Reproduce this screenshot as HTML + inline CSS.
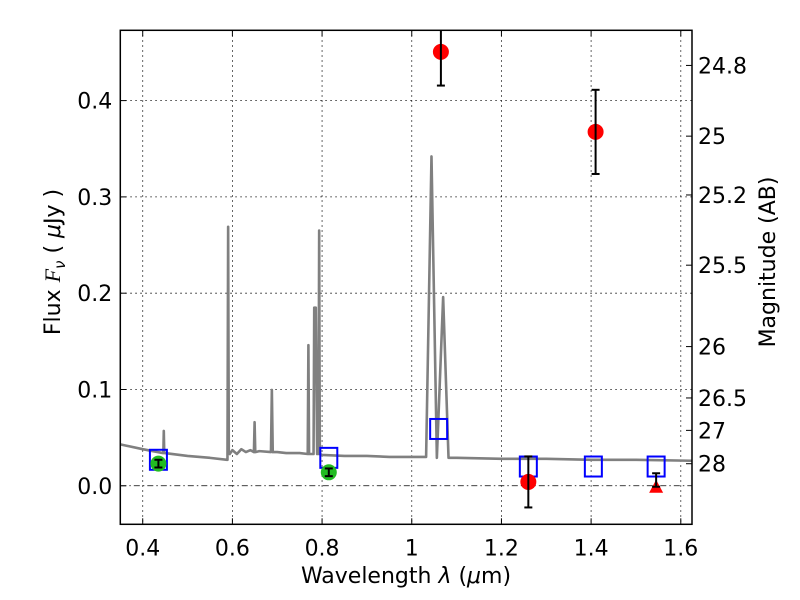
<!DOCTYPE html>
<html><head><meta charset="utf-8"><style>
body{margin:0;background:#fff}
svg{display:block;font-family:"DejaVu Sans","Liberation Sans",sans-serif}
</style></head><body>
<svg id="chart" width="800" height="600" viewBox="0 0 800 600">
<g id="grid"></g>
<g id="spec"></g>
<g id="pts"></g>
<g id="axes"></g>
</svg>
<script>
const xTicks=[0.4,0.6,0.8,1.0,1.2,1.4,1.6];
const xTickLabels=["0.4","0.6","0.8","1","1.2","1.4","1.6"];
const yTicks=[0.0,0.1,0.2,0.3,0.4];
const yTickLabels=["0.0","0.1","0.2","0.3","0.4"];
const magTicks=[24.8,25,25.2,25.5,26,26.5,27,28];
const magTickLabels=["24.8","25","25.2","25.5","26","26.5","27","28"];
const specWave=[0.35,0.40,0.445,0.446,0.447,0.448,0.449,0.50,0.55,0.588,0.589,0.5905,0.592,0.594,0.60,0.61,0.62,0.63,0.64,0.648,0.6495,0.651,0.66,0.686,0.688,0.690,0.70,0.72,0.75,0.768,0.7695,0.771,0.778,0.781,0.7825,0.786,0.789,0.792,0.7935,0.795,0.80,0.85,0.90,0.95,1.00,1.032,1.044,1.056,1.07,1.082,1.10,1.20,1.30,1.40,1.50,1.625];
const specFlux=[0.043,0.038,0.034,0.034,0.057,0.034,0.034,0.031,0.029,0.027,0.027,0.269,0.034,0.033,0.037,0.033,0.038,0.035,0.037,0.035,0.066,0.035,0.036,0.035,0.0995,0.035,0.035,0.034,0.034,0.033,0.146,0.033,0.033,0.033,0.185,0.185,0.033,0.033,0.265,0.033,0.032,0.031,0.031,0.030,0.030,0.030,0.342,0.029,0.196,0.029,0.029,0.028,0.028,0.027,0.027,0.026];
const redWave=[1.065,1.41,1.26];
const redFlux=[0.4506,0.3675,0.004];
const redErr=[0.035,0.0437,0.0265];
const triWave=[1.545];
const triFlux=[-0.001];
const triErr=[0.014];
const greenWave=[0.435,0.815];
const greenFlux=[0.023,0.014];
const greenErr=[0.004,0.004];
const blueWave=[0.435,0.815,1.06,1.26,1.405,1.545];
const blueFlux=[0.027,0.029,0.059,0.020,0.020,0.020];

const L=120.3,R=692,T=30.3,B=524.3,x0=0.35,x1=1.625,y0=-0.04,y1=0.473;
const X=v=>L+(v-x0)/(x1-x0)*(R-L);
const Y=v=>B-(v-y0)/(y1-y0)*(B-T);
const NS="http://www.w3.org/2000/svg";
function mk(tag,attrs,parent,text){const e=document.createElementNS(NS,tag);for(const k in attrs)e.setAttribute(k,attrs[k]);if(text!==undefined)e.textContent=text;parent.appendChild(e);return e;}
const grid=document.getElementById('grid'),spec=document.getElementById('spec'),pts=document.getElementById('pts'),axes=document.getElementById('axes');

xTicks.forEach((t,i)=>{
 const g=mk('line',{x1:X(t),x2:X(t),y1:T,y2:B,stroke:'#000','stroke-width':0.8,'stroke-dasharray':'1.5,3.5'},grid);
 
 
 mk('line',{x1:X(t),x2:X(t),y1:B,y2:B-6,stroke:'#000','stroke-width':1},axes);
 mk('line',{x1:X(t),x2:X(t),y1:T,y2:T+6,stroke:'#000','stroke-width':1},axes);
 const tl=mk('text',{x:X(t),y:B+31,'font-size':22,'text-anchor':'middle'},axes,xTickLabels[i]);
 
 
});
yTicks.forEach((t,i)=>{
 const g=mk('line',{x1:L,x2:R,y1:Y(t),y2:Y(t),stroke:'#000','stroke-width':0.8,'stroke-dasharray':t===0?'6,3,1.5,3':'1.5,3.5'},grid);
 
 
 mk('line',{x1:L,x2:L+6,y1:Y(t),y2:Y(t),stroke:'#000','stroke-width':1},axes);
 const tl=mk('text',{x:L-8,y:Y(t)+8,'font-size':22,'text-anchor':'end'},axes,yTickLabels[i]);
 
 
});
magTicks.forEach((m,i)=>{
 const f=Math.pow(10,(23.9-m)/2.5);
 mk('line',{x1:R,x2:R-6,y1:Y(f),y2:Y(f),stroke:'#000','stroke-width':1},axes);
 const tl=mk('text',{x:R+6,y:Y(f)+8,'font-size':22},axes,magTickLabels[i]);
 
 
});

const sp=mk('polyline',{points:specWave.map((w,i)=>X(w)+','+Y(specFlux[i])).join(' '),fill:'none',stroke:'#808080','stroke-width':2.6,'stroke-linejoin':'round'},spec);



function errbar(x,lo,hi){
 const yl=Math.min(Y(lo),B),yh=Math.max(Y(hi),T);
 mk('line',{x1:x,x2:x,y1:yl,y2:yh,stroke:'#000','stroke-width':2},pts);
 if(Y(lo)<=B)mk('line',{x1:x-4,x2:x+4,y1:yl,y2:yl,stroke:'#000','stroke-width':2},pts);
 if(Y(hi)>=T)mk('line',{x1:x-4,x2:x+4,y1:yh,y2:yh,stroke:'#000','stroke-width':2},pts);
}
blueWave.forEach((w,i)=>{
 const r=mk('rect',{x:X(w)-8.5,y:Y(blueFlux[i])-10,width:17,height:20,fill:'none',stroke:'#0000ff','stroke-width':2},pts);
 
 
});
greenWave.forEach((w,i)=>{
 const c=mk('circle',{cx:X(w),cy:Y(greenFlux[i]),r:8,fill:'#22bb22'},pts);
 
 
 errbar(X(w),greenFlux[i]-greenErr[i],greenFlux[i]+greenErr[i]);
});
redWave.forEach((w,i)=>{
 const c=mk('circle',{cx:X(w),cy:Y(redFlux[i]),r:8,fill:'#ff0000'},pts);
 
 
 errbar(X(w),redFlux[i]-redErr[i],redFlux[i]+redErr[i]);
});
triWave.forEach((w,i)=>{
 const x=X(w),y=Y(triFlux[i]);
 const p=mk('polygon',{points:`${x-7},${y+6} ${x+7},${y+6} ${x},${y-7}`,fill:'#ff0000'},pts);
 
 
 errbar(x,triFlux[i],triFlux[i]+triErr[i]);
});

const fr=mk('rect',{x:L,y:T,width:R-L,height:B-T,fill:'none',stroke:'#000','stroke-width':1.5},axes);


const xl=mk('text',{x:406,y:583,'font-size':22,'text-anchor':'middle'},axes);
xl.innerHTML='Wavelength  <tspan font-style="italic">λ</tspan> (<tspan font-style="italic">μ</tspan>m)';


const yl=mk('text',{x:0,y:0,'font-size':22,'text-anchor':'middle',transform:'translate(60,262) rotate(-90)'},axes);
yl.innerHTML='Flux  <tspan font-style="italic" font-family="Liberation Serif, serif">F</tspan><tspan font-style="italic" font-size="15" dy="5">ν</tspan><tspan dy="-5">  ( </tspan><tspan font-style="italic">μ</tspan>Jy )';


const ml=mk('text',{x:0,y:0,'font-size':22,'text-anchor':'middle',transform:'translate(775,262) rotate(-90)'},axes,'Magnitude (AB)');


</script>
</body></html>
